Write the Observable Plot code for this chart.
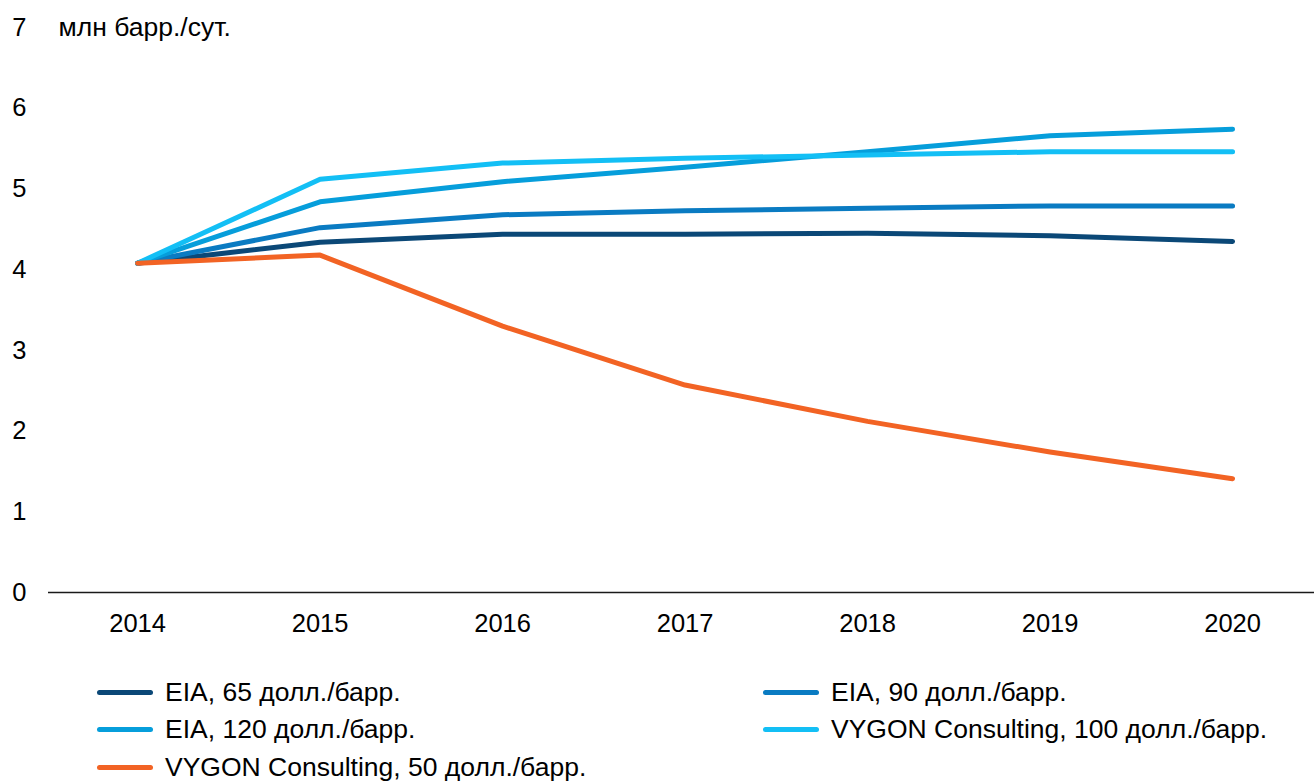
<!DOCTYPE html>
<html>
<head>
<meta charset="utf-8">
<script src="https://cdn.jsdelivr.net/npm/d3@7"></script>
<script src="https://cdn.jsdelivr.net/npm/@observablehq/plot@0.6"></script>
<style>
  html, body { margin: 0; padding: 0; background: #fff; }
  #wrap { position: relative; width: 1314px; height: 781px; font-family: "Liberation Sans", Arial, sans-serif; color: #000; }
  #chart svg { display: block; }
  .leg { position: absolute; display: flex; align-items: center; font-size: 26.5px; white-space: nowrap; line-height: 1; }
  .sw { width: 56px; height: 5px; border-radius: 3px; margin-right: 12px; }
</style>
</head>
<body>
<div id="wrap">
  <div id="chart"></div>
  <div id="legend"></div>
</div>
<script>
const years = [2014, 2015, 2016, 2017, 2018, 2019, 2020];
const seriesNames = [
  "EIA, 65 долл./барр.",
  "EIA, 90 долл./барр.",
  "EIA, 120 долл./барр.",
  "VYGON Consulting, 100 долл./барр.",
  "VYGON Consulting, 50 долл./барр."
];
const eia65    = [4.08, 4.34, 4.44, 4.44, 4.45, 4.42, 4.35];
const eia90    = [4.08, 4.52, 4.68, 4.73, 4.76, 4.79, 4.79];
const eia120   = [4.08, 4.84, 5.09, 5.27, 5.46, 5.66, 5.74];
const vygon100 = [4.08, 5.12, 5.32, 5.38, 5.42, 5.46, 5.46];
const vygon50  = [4.08, 4.18, 3.30, 2.57, 2.12, 1.74, 1.41];
const colors = ["#0b4877", "#0a7bc2", "#069edb", "#13bff5", "#f26324"];
const yTicks = [0, 1, 2, 3, 4, 5, 6, 7];
const unitLabel = "млн барр./сут.";

const allSeries = [eia65, eia90, eia120, vygon100, vygon50];
const rows = [];
allSeries.forEach((vals, i) => {
  vals.forEach((v, j) => rows.push({series: seriesNames[i], year: years[j], value: v}));
});

const FONT = "\"Liberation Sans\", Arial, sans-serif";

const chart = Plot.plot({
  width: 1314,
  height: 652,
  marginLeft: 48,
  marginRight: 0,
  marginTop: 27,
  marginBottom: 60,
  style: {fontFamily: FONT, fontSize: "25px", color: "#000", background: "#fff"},
  x: {type: "linear", domain: [2013.512, 2020.449], ticks: years, tickFormat: d => String(d), label: null},
  y: {domain: [0, 7], ticks: yTicks, tickFormat: d => String(d), label: null},
  color: {domain: seriesNames, range: colors},
  marks: [
    Plot.axisX({ticks: years, tickFormat: d => String(d), tickSize: 0, tickPadding: 21, fontSize: 25.5, label: null}),
    Plot.axisY({ticks: yTicks, tickFormat: d => String(d), tickSize: 0, tickPadding: 22, fontSize: 25.5, label: null}),
    Plot.ruleY([0], {stroke: "#1a1a1a", strokeWidth: 1.6}),
    Plot.line(rows, {x: "year", y: "value", z: "series", stroke: "series", strokeWidth: 5, strokeLinecap: "round", strokeLinejoin: "round"}),
    Plot.text([unitLabel], {frameAnchor: "top-left", dx: 10, lineAnchor: "middle", textAnchor: "start", fontSize: 26.5, fill: "#000"})
  ]
});
document.getElementById("chart").appendChild(chart);

// Legend
const legendPos = [
  {left: 97, top: 692},
  {left: 763, top: 692},
  {left: 97, top: 729.5},
  {left: 763, top: 729.5},
  {left: 97, top: 767}
];
const legend = document.getElementById("legend");
seriesNames.forEach((name, i) => {
  const item = document.createElement("div");
  item.className = "leg";
  item.style.left = legendPos[i].left + "px";
  item.style.top = (legendPos[i].top - 13) + "px";
  item.style.height = "26px";
  const sw = document.createElement("span");
  sw.className = "sw";
  sw.style.background = colors[i];
  const tx = document.createElement("span");
  tx.textContent = name;
  item.appendChild(sw);
  item.appendChild(tx);
  legend.appendChild(item);
});
</script>
</body>
</html>
